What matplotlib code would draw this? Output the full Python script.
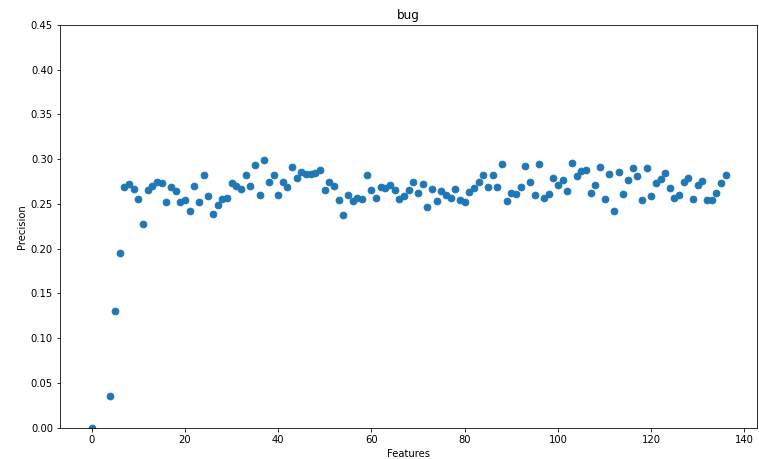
import numpy as np
import matplotlib
matplotlib.use("Agg")
import matplotlib.pyplot as plt

# features count -> precision
features = [0, 4, 5, 6] + list(range(7, 137))
precision = [0.0, 0.035, 0.130, 0.195,
    0.269, 0.272, 0.267, 0.255, 0.227, 0.266, 0.270, 0.274, 0.273, 0.252,  # 7-16
    0.269, 0.264, 0.252, 0.254, 0.242, 0.270, 0.252, 0.282, 0.259, 0.239,  # 17-26
    0.249, 0.256, 0.257, 0.273, 0.270, 0.267, 0.282, 0.270, 0.293, 0.260,  # 27-36
    0.299, 0.274, 0.282, 0.260, 0.274, 0.269, 0.291, 0.279, 0.286, 0.283,  # 37-46
    0.283, 0.285, 0.288, 0.265, 0.275, 0.270, 0.254, 0.238, 0.260, 0.253,  # 47-56
    0.257, 0.255, 0.282, 0.266, 0.257, 0.269, 0.268, 0.271, 0.265, 0.256,  # 57-66
    0.259, 0.266, 0.275, 0.262, 0.272, 0.246, 0.267, 0.253, 0.264, 0.260,  # 67-76
    0.257, 0.267, 0.254, 0.252, 0.263, 0.268, 0.275, 0.282, 0.269, 0.282,  # 77-86
    0.269, 0.294, 0.253, 0.262, 0.261, 0.269, 0.292, 0.274, 0.260, 0.294,  # 87-96
    0.257, 0.261, 0.279, 0.271, 0.277, 0.264, 0.296, 0.281, 0.287, 0.288,  # 97-106
    0.262, 0.271, 0.291, 0.256, 0.283, 0.242, 0.286, 0.261, 0.277, 0.290,  # 107-116
    0.281, 0.254, 0.290, 0.259, 0.273, 0.278, 0.284, 0.268, 0.257, 0.260,  # 117-126
    0.274, 0.279, 0.255, 0.271, 0.276, 0.254, 0.254, 0.262, 0.273, 0.282]  # 127-136

fig = plt.figure(figsize=(759/72, 459/72), dpi=72)
ax = fig.add_subplot(111)
fig.subplots_adjust(left=0.079, right=0.998, bottom=0.068, top=0.946)
ax.scatter(features, precision, s=45, color='#1f77b4')
ax.set_ylim(0, 0.45)
ax.set_yticks(np.arange(0, 0.451, 0.05))
ax.set_yticklabels(['%.2f' % v for v in np.arange(0, 0.451, 0.05)])
ax.set_xticks(range(0, 141, 20))
ax.set_title('bug')
ax.set_xlabel('Features')
ax.set_ylabel('Precision')
fig.savefig('out.png', dpi=72)
